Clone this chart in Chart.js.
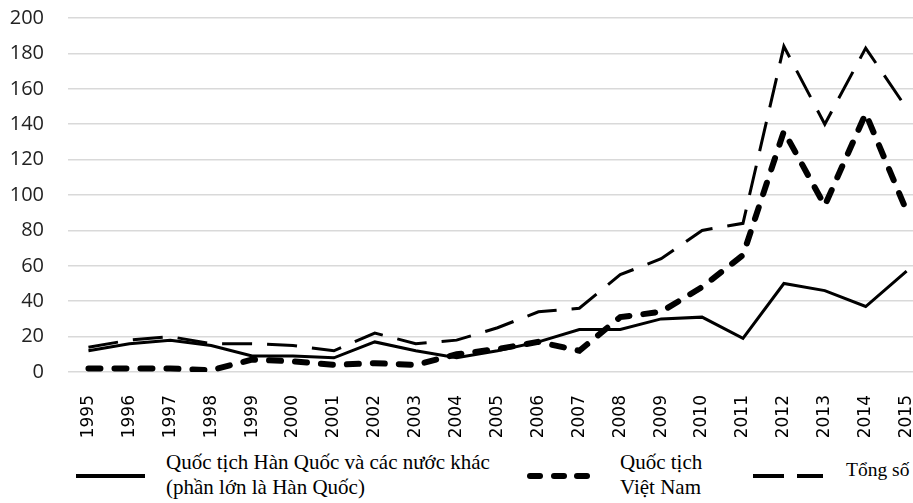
<!DOCTYPE html>
<html>
<head>
<meta charset="utf-8">
<script src="https://cdn.jsdelivr.net/npm/chart.js@4"></script>
<style>
  html, body { margin: 0; padding: 0; background: #fff; overflow: hidden; }
  body { width: 913px; height: 503px; position: relative; }
  #clip { position: absolute; left: 0; top: 0; width: 913px; height: 503px; overflow: hidden; }
  #wrap { position: absolute; left: 0; top: -18px; width: 950px; height: 458px; }
  .lg { position: absolute; font-family: "Liberation Serif", serif; font-size: 21px; line-height: 25px; color: #000; white-space: nowrap; }
  .mk { position: absolute; background: #000; }
</style>
</head>
<body>
<div id="clip"><div id="wrap"><canvas id="chart"></canvas></div>

<!-- legend -->
<div class="mk" style="left:76px; top:474px; width:69px; height:4px;"></div>
<div class="lg" style="left:166px; top:450px;">Quốc tịch Hàn Quốc và các nước khác<br>(phần lớn là Hàn Quốc)</div>

<div class="mk" style="left:527px; top:473px; width:16px; height:6px; border-radius:3px;"></div>
<div class="mk" style="left:551px; top:473px; width:16px; height:6px; border-radius:3px;"></div>
<div class="mk" style="left:574px; top:473px; width:16px; height:6px; border-radius:3px;"></div>
<div class="lg" style="left:620px; top:450px;">Quốc tịch<br>Việt Nam</div>

<div class="mk" style="left:753px; top:474px; width:31px; height:4px;"></div>
<div class="mk" style="left:797px; top:474px; width:26px; height:4px;"></div>
<div class="lg" style="left:846px; top:457px; font-size:19.5px;">Tổng số</div>
</div>

<script>
const years = [1995, 1996, 1997, 1998, 1999, 2000, 2001, 2002, 2003, 2004, 2005,
               2006, 2007, 2008, 2009, 2010, 2011, 2012, 2013, 2014, 2015];

// Korean and other nationalities (mostly Korean)
const koreanOther = [12, 16, 18, 15, 9, 9, 8, 17, 12, 8, 12,
                     17, 24, 24, 30, 31, 19, 50, 46, 37, 57];
// Vietnamese nationality
const vietnamese = [2, 2, 2, 1, 7, 6, 4, 5, 4, 10, 13,
                    17, 12, 31, 34, 48, 66, 136, 94, 146, 91];
// Total
const total = [14, 18, 20, 16, 16, 15, 12, 22, 16, 18, 25,
               34, 36, 55, 64, 80, 84, 184, 140, 183, 149];

const yTicks = [0, 20, 40, 60, 80, 100, 120, 140, 160, 180, 200];

const toPoints = arr => arr.map((v, i) => ({ x: years[i], y: v }));

const ctx = document.getElementById('chart').getContext('2d');
new Chart(ctx, {
  type: 'line',
  data: {
    datasets: [
      {
        label: 'Quốc tịch Hàn Quốc và các nước khác (phần lớn là Hàn Quốc)',
        data: toPoints(koreanOther),
        borderColor: '#000',
        borderWidth: 3,
        pointRadius: 0,
        tension: 0
      },
      {
        label: 'Quốc tịch Việt Nam',
        data: toPoints(vietnamese),
        borderColor: '#000',
        borderWidth: 6,
        borderDash: [12, 14],
        borderCapStyle: 'round',
        pointRadius: 0,
        tension: 0
      },
      {
        label: 'Tổng số',
        data: toPoints(total),
        borderColor: '#000',
        borderWidth: 3,
        borderDash: [30, 15],
        pointRadius: 0,
        tension: 0
      }
    ]
  },
  options: {
    responsive: true,
    maintainAspectRatio: false,
    animation: false,
    layout: { padding: { top: 8, right: 0, bottom: 0, left: 0 } },
    plugins: {
      legend: { display: false },
      tooltip: { enabled: false }
    },
    scales: {
      x: {
        type: 'linear',
        min: 1994.5,
        max: 2015.21,
        afterBuildTicks: axis => { axis.ticks = years.map(v => ({ value: v })); },
        afterFit: axis => { axis.height = 68; },
        grid: { display: false, drawTicks: false },
        border: { display: false },
        ticks: {
          autoSkip: false,
          maxRotation: 90,
          minRotation: 90,
          padding: 23,
          color: '#000',
          font: { family: 'DejaVu Sans', size: 17 },
          callback: v => String(v)
        }
      },
      y: {
        min: 0,
        max: 200,
        afterBuildTicks: axis => { axis.ticks = yTicks.map(v => ({ value: v })); },
        afterFit: axis => { axis.width = 68; },
        grid: { color: '#d9d9d9', lineWidth: 1.5, drawTicks: false },
        border: { display: false },
        ticks: {
          padding: 24,
          color: '#222',
          font: { family: 'Open Sans', size: 20 }
        }
      }
    }
  }
});
</script>
</body>
</html>
